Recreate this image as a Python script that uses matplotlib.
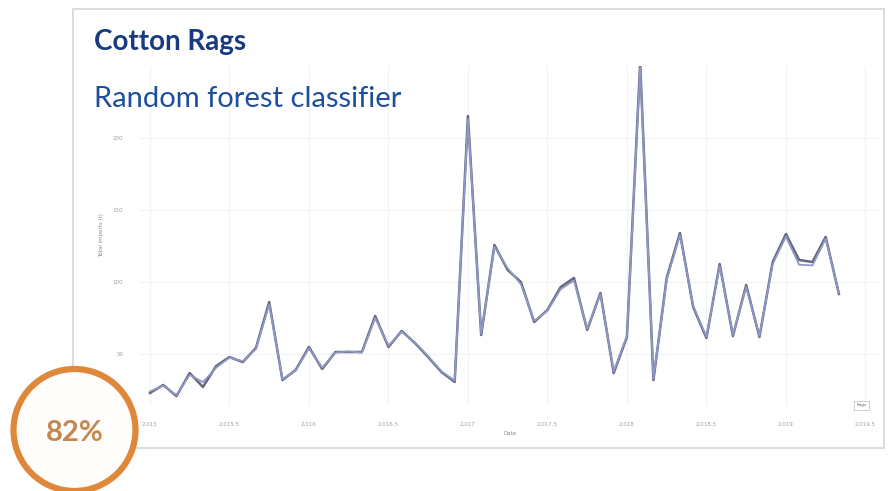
import matplotlib
matplotlib.use("Agg")
import matplotlib.pyplot as plt
from matplotlib.patches import Rectangle, Circle
import numpy as np

# Monthly imports, Jan 2015 - May 2019
start_year = 2015
actual = [22.9, 28.5, 20.8, 36.8, 27.1, 41.7, 47.9, 44.4, 54.2, 86.1,
          31.9, 38.9, 54.9, 39.6, 51.4, 51.4, 51.4, 76.4, 54.9, 66.0,
          57.6, 47.9, 37.5, 30.6, 215.3, 63.2, 125.7, 108.3, 100.0, 72.2,
          80.6, 96.5, 102.8, 66.7, 92.4, 36.8, 61.8, 252.0, 31.9, 102.8,
          134.0, 82.6, 61.1, 112.5, 62.5, 97.9, 61.8, 113.9, 133.3, 115.3,
          113.9, 131.3, 91.7]
predicted = [24.0, 28.0, 21.5, 35.5, 30.5, 40.5, 47.5, 45.0, 53.5, 84.5,
             32.5, 38.5, 54.0, 40.5, 51.0, 51.8, 51.0, 75.0, 55.8, 65.5,
             58.0, 48.5, 38.0, 31.5, 213.0, 64.0, 124.5, 109.5, 98.5, 73.0,
             80.0, 95.0, 101.0, 67.5, 91.5, 38.0, 62.5, 249.0, 33.0, 101.5,
             132.5, 83.5, 62.0, 111.0, 63.5, 96.5, 62.5, 112.5, 131.5, 112.0,
             111.5, 130.0, 92.5]
x_ticks = [2015.0, 2015.5, 2016.0, 2016.5, 2017.0, 2017.5, 2018.0, 2018.5, 2019.0, 2019.5]
y_ticks = [50, 100, 150, 200]

title = "Cotton Rags"
subtitle = "Random forest classifier"
score = "82%"

W, H = 893, 491
fig = plt.figure(figsize=(W / 100, H / 100), dpi=100)
fig.patch.set_facecolor("white")

def frac(l, t, r, b):
    return [l / W, 1 - b / H, (r - l) / W, (b - t) / H]

# background card
bg = fig.add_axes([0, 0, 1, 1], zorder=0)
bg.set_xlim(0, W); bg.set_ylim(H, 0); bg.axis("off")
bg.add_patch(Rectangle((73, 9), 811, 439, facecolor="white",
                       edgecolor="#d6d6d6", linewidth=1.2))

# line chart
ax = fig.add_axes(frac(140, 66, 880, 405), zorder=1)
ax.patch.set_alpha(0)
months = np.arange(len(actual))
xs = start_year + months / 12.0
ax.plot(xs, actual, color="#66687a", linewidth=1.8, solid_joinstyle="round")
ax.plot(xs, predicted, color="#8e97c8", linewidth=1.3, solid_joinstyle="round")
ax.set_xlim(start_year - 0.75 / 12, start_year + 55.1 / 12)
ax.set_ylim(14.6, 250)
ax.set_xticks(x_ticks)
ax.set_xticklabels([f"{v:,.0f}" if v == int(v) else f"{v:,.1f}" for v in x_ticks])
ax.set_yticks(y_ticks)
ax.tick_params(labelsize=4, colors="#a0a0a0", length=0, pad=12)
ax.grid(True, color="#f2f2f2", linewidth=0.8)
for s in ax.spines.values():
    s.set_visible(False)
ax.set_xlabel("Date", fontsize=4, color="#8a8a8a", labelpad=3)
ax.set_ylabel("Total imports (t)", fontsize=4, color="#8a8a8a", labelpad=6)
ax.text(0.975, 0.0, "Rags", transform=ax.transAxes, fontsize=3, color="#666666",
        ha="center", va="center",
        bbox=dict(boxstyle="square,pad=0.6", facecolor="white", edgecolor="#bbbbbb", linewidth=0.5))

# overlay: titles and score badge
ov = fig.add_axes([0, 0, 1, 1], zorder=2)
ov.set_xlim(0, W); ov.set_ylim(H, 0); ov.axis("off")
ov.text(94, 42, title, fontsize=20, fontweight="bold", color="#173a80",
        family="Lato", ha="left", va="center")
ov.text(94, 99, subtitle, fontsize=21, color="#1f4e9e",
        family="Lato", ha="left", va="center")
ov.add_patch(Circle((74.5, 430), 61, facecolor="#fffdfb", edgecolor="#e0883a", linewidth=4.5))
ov.text(75, 433, score, fontsize=21, fontweight="bold", color="#c48750",
        family="Lato", ha="center", va="center")

fig.savefig("out.png", dpi=100, facecolor="white")
